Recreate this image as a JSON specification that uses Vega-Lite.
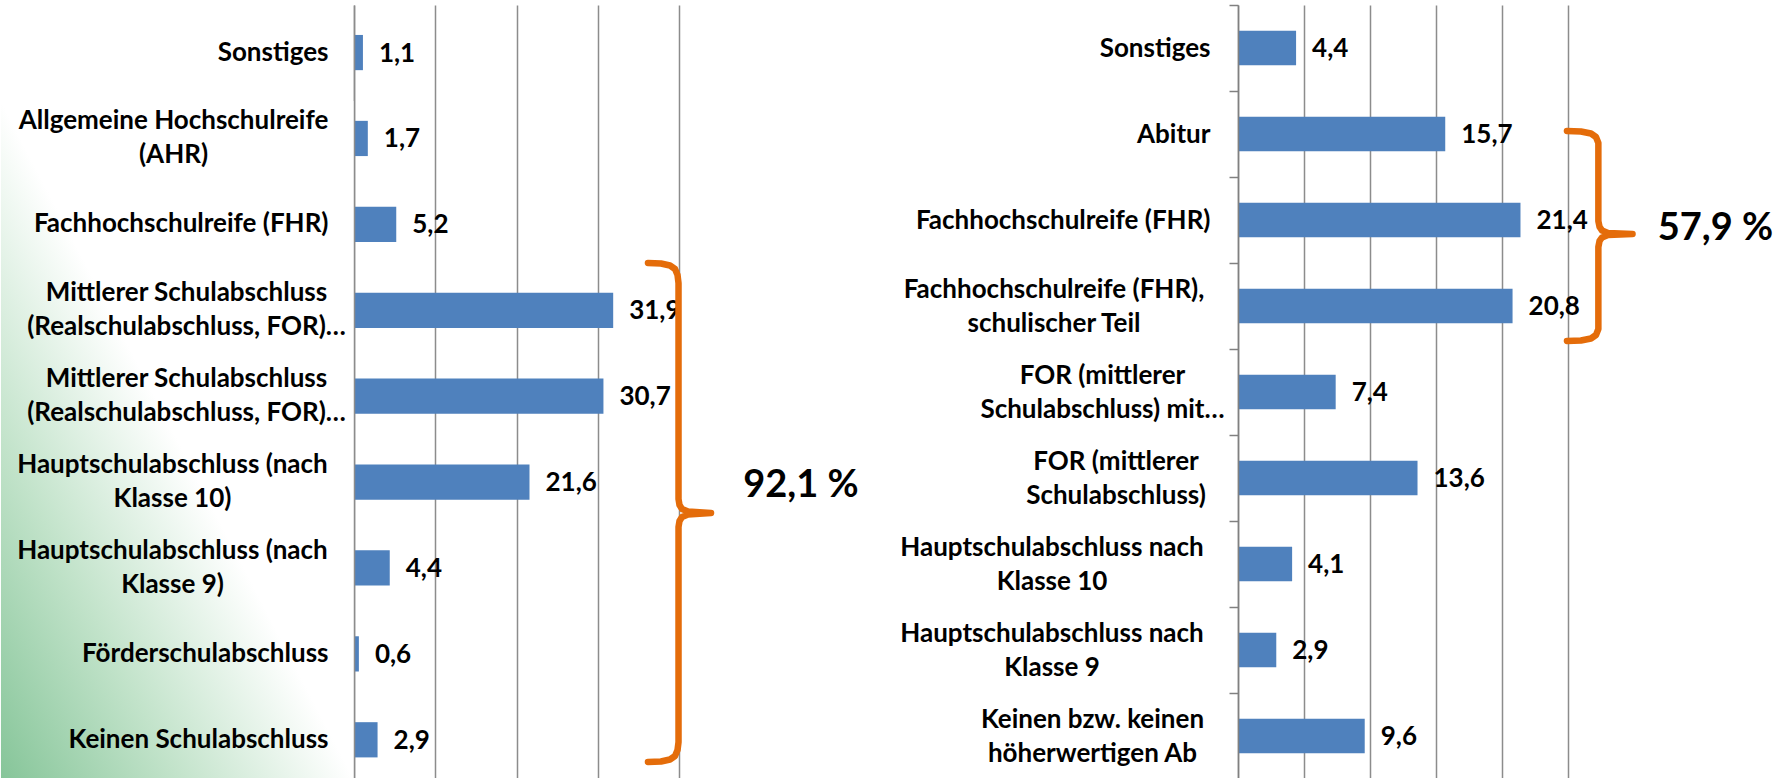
{
  "$schema": "https://vega.github.io/schema/vega-lite/v6.json",
  "padding": {"left": 0, "top": 4, "right": 0, "bottom": 0},
  "background": "#ffffff",
  "bounds": "flush",
  "spacing": 559,
  "config": {
    "locale": {"number": {"decimal": ",", "thousands": ".", "grouping": [3], "currency": ["", " €"]}},
    "view": {"stroke": null},
    "font": "Lato",
    "axis": {"labelFont": "Lato", "labelFontWeight": "bold", "labelFontSize": 26, "labelColor": "#000000", "title": null}
  },
  "datasets": {
    "left": [
      {"cat": "Sonstiges", "value": 1.1},
      {"cat": "Allgemeine Hochschulreife|(AHR)", "value": 1.7},
      {"cat": "Fachhochschulreife (FHR)", "value": 5.2},
      {"cat": "Mittlerer Schulabschluss|(Realschulabschluss, FOR)…", "value": 31.9},
      {"cat": "Mittlerer Schulabschluss|(Realschulabschluss, FOR)…\u200b", "value": 30.7},
      {"cat": "Hauptschulabschluss (nach|Klasse 10)", "value": 21.6},
      {"cat": "Hauptschulabschluss (nach|Klasse 9)", "value": 4.4},
      {"cat": "Förderschulabschluss", "value": 0.6},
      {"cat": "Keinen Schulabschluss", "value": 2.9}
    ],
    "right": [
      {"cat": "Sonstiges", "value": 4.4},
      {"cat": "Abitur", "value": 15.7},
      {"cat": "Fachhochschulreife (FHR)", "value": 21.4},
      {"cat": "Fachhochschulreife (FHR),|schulischer Teil", "value": 20.8},
      {"cat": "FOR (mittlerer|Schulabschluss) mit…", "value": 7.4},
      {"cat": "FOR (mittlerer|Schulabschluss)", "value": 13.6},
      {"cat": "Hauptschulabschluss nach|Klasse 10", "value": 4.1},
      {"cat": "Hauptschulabschluss nach|Klasse 9", "value": 2.9},
      {"cat": "Keinen bzw. keinen|höherwertigen Ab", "value": 9.6}
    ],
    "braceLeft": [
      {"i": 0, "bx": 36.18, "by": 3.000},
      {"i": 1, "bx": 37.78, "by": 3.006},
      {"i": 2, "bx": 38.89, "by": 3.029},
      {"i": 3, "bx": 39.51, "by": 3.070},
      {"i": 4, "bx": 39.82, "by": 3.140},
      {"i": 5, "bx": 39.94, "by": 3.233},
      {"i": 6, "bx": 39.94, "by": 5.744},
      {"i": 7, "bx": 40.06, "by": 5.814},
      {"i": 8, "bx": 40.37, "by": 5.860},
      {"i": 9, "bx": 41.11, "by": 5.890},
      {"i": 10, "bx": 43.94, "by": 5.907},
      {"i": 11, "bx": 41.11, "by": 5.924},
      {"i": 12, "bx": 40.37, "by": 5.953},
      {"i": 13, "bx": 40.06, "by": 6.000},
      {"i": 14, "bx": 39.94, "by": 6.070},
      {"i": 15, "bx": 39.94, "by": 8.570},
      {"i": 16, "bx": 39.82, "by": 8.663},
      {"i": 17, "bx": 39.51, "by": 8.733},
      {"i": 18, "bx": 38.89, "by": 8.773},
      {"i": 19, "bx": 37.78, "by": 8.797},
      {"i": 20, "bx": 36.18, "by": 8.802}
    ],
    "braceRight": [
      {"i": 0, "bx": 24.92, "by": 1.465},
      {"i": 1, "bx": 25.98, "by": 1.471},
      {"i": 2, "bx": 26.74, "by": 1.494},
      {"i": 3, "bx": 27.12, "by": 1.535},
      {"i": 4, "bx": 27.30, "by": 1.605},
      {"i": 5, "bx": 27.30, "by": 2.512},
      {"i": 6, "bx": 27.39, "by": 2.581},
      {"i": 7, "bx": 27.58, "by": 2.622},
      {"i": 8, "bx": 28.03, "by": 2.651},
      {"i": 9, "bx": 29.89, "by": 2.663},
      {"i": 10, "bx": 28.03, "by": 2.674},
      {"i": 11, "bx": 27.58, "by": 2.703},
      {"i": 12, "bx": 27.39, "by": 2.744},
      {"i": 13, "bx": 27.30, "by": 2.814},
      {"i": 14, "bx": 27.30, "by": 3.767},
      {"i": 15, "bx": 27.12, "by": 3.837},
      {"i": 16, "bx": 26.74, "by": 3.878},
      {"i": 17, "bx": 25.98, "by": 3.901},
      {"i": 18, "bx": 24.92, "by": 3.907}
    ]
  },
  "hconcat": [
    {
      "width": 325,
      "height": 774,
      "layer": [
        {
          "data": {"name": "left"},
          "layer": [
            {
              "mark": {"type": "bar", "color": "#4F81BD"},
              "encoding": {
                "y": {
                  "field": "cat", "type": "nominal", "sort": null,
                  "scale": {"paddingInner": 0.59, "paddingOuter": 0.3, "align": 0.581},
                  "axis": {
                    "ticks": false, "tickSize": 0, "domainColor": "#8c8c8c", "domainWidth": 1.5,
                    "labelLimit": 600, "labelLineHeight": 34, "labelPadding": 26, "labelExpr": "split(datum.label, '|')", "zindex": 1,
                    "minExtent": 353, "maxExtent": 353,
                    "encoding": {"labels": {
                      "align": {"value": {"expr": "indexof(datum.value, '|') >= 0 ? 'center' : 'right'"}},
                      "dy": {"value": {"expr": "indexof(datum.value, '|') >= 0 ? -17 : 0"}},
                      "dx": {"value": {"expr": "indexof(datum.value, 'Allgemeine') >= 0 ? -155 : indexof(datum.value, 'Mittlerer') >= 0 ? -142 : indexof(datum.value, 'Hauptschulabschluss (nach') >= 0 ? -156 : 0"}}
                    }}
                  }
                },
                "x": {
                  "field": "value", "type": "quantitative",
                  "scale": {"domain": [0, 40], "nice": false},
                  "axis": {"values": [0, 10, 20, 30, 40], "grid": true, "gridColor": "#8c8c8c", "gridWidth": 1.5, "labels": false, "ticks": false, "domain": false, "title": null}
                }
              }
            },
            {
              "mark": {"type": "text", "align": "left", "baseline": "middle", "dx": 16, "dy": 1, "fontSize": 26, "fontWeight": "bold", "font": "Lato", "color": "#000000"},
              "encoding": {
                "y": {"field": "cat", "type": "nominal", "sort": null},
                "x": {"field": "value", "type": "quantitative"},
                "text": {"field": "value", "type": "quantitative", "format": ".1f"}
              }
            }
          ]
        },
        {
          "layer": [
            {
              "data": {"values": [{}]},
              "mark": {"type": "rect", "fill": {"gradient": "linear", "x1": 0, "y1": 1, "x2": 1, "y2": 0, "stops": [{"offset": 0, "color": "#86c599"}, {"offset": 0.25, "color": "#c2e3ca"}, {"offset": 0.5, "color": "#ffffff"}, {"offset": 1, "color": "#ffffff"}]}},
              "encoding": {
                "x": {"datum": -43.45, "type": "quantitative", "scale": {"domain": [0, 40], "nice": false}},
                "x2": {"datum": 0},
                "y": {"datum": 1.116, "type": "quantitative", "scale": {"domain": [0, 9], "reverse": true, "nice": false, "zero": false}, "axis": null},
                "y2": {"datum": 9}
              }
            },
            {
              "data": {"name": "braceLeft"},
              "mark": {"type": "line", "color": "#E46C0A", "strokeWidth": 6.5, "strokeCap": "round", "strokeJoin": "round"},
              "encoding": {
                "x": {"field": "bx", "type": "quantitative", "scale": {"domain": [0, 40], "nice": false}},
                "y": {"field": "by", "type": "quantitative", "scale": {"domain": [0, 9], "reverse": true, "nice": false, "zero": false}, "axis": null},
                "order": {"field": "i", "type": "quantitative"}
              }
            },
            {
              "data": {"values": [{}]},
              "mark": {"type": "text", "align": "center", "baseline": "middle", "fontSize": 38, "fontWeight": "bold", "font": "Lato", "color": "#000000"},
              "encoding": {
                "x": {"datum": 55.0, "type": "quantitative"},
                "y": {"datum": 5.593, "type": "quantitative"},
                "text": {"value": "92,1 %"}
              }
            }
          ]
        }
      ],
      "resolve": {"scale": {"y": "independent"}, "axis": {"y": "independent"}}
    },
    {
      "width": 330,
      "height": 774,
      "layer": [
        {
          "data": {"name": "right"},
          "layer": [
            {
              "mark": {"type": "bar", "color": "#4F81BD"},
              "encoding": {
                "y": {
                  "field": "cat", "type": "nominal", "sort": null,
                  "scale": {"paddingInner": 0.6, "paddingOuter": 0.3},
                  "axis": {
                    "ticks": true, "tickSize": 9, "tickOffset": -43, "tickColor": "#808080", "tickWidth": 1.5,
                    "domainColor": "#808080", "domainWidth": 1.5,
                    "labelLimit": 600, "labelLineHeight": 34, "labelPadding": 19, "labelOffset": 43, "labelExpr": "split(datum.label, '|')", "zindex": 1,
                    "encoding": {"labels": {
                      "align": {"value": {"expr": "indexof(datum.value, '|') >= 0 ? 'center' : 'right'"}},
                      "dy": {"value": {"expr": "indexof(datum.value, '|') >= 0 ? -17 : 0"}},
                      "dx": {"value": {"expr": "indexof(datum.value, 'schulischer') >= 0 ? -156.5 : indexof(datum.value, 'mit…') >= 0 ? -108 : indexof(datum.value, 'FOR (mittlerer') >= 0 ? -94.5 : indexof(datum.value, 'Hauptschulabschluss nach') >= 0 ? -158.5 : indexof(datum.value, 'Keinen bzw.') >= 0 ? -118 : 0"}}
                    }}
                  }
                },
                "x": {
                  "field": "value", "type": "quantitative",
                  "scale": {"domain": [0, 25], "nice": false},
                  "axis": {"values": [0, 5, 10, 15, 20, 25], "grid": true, "gridColor": "#8c8c8c", "gridWidth": 1.5, "labels": false, "ticks": false, "domain": false, "title": null}
                }
              }
            },
            {
              "mark": {"type": "text", "align": "left", "baseline": "middle", "dx": 16, "dy": 1, "fontSize": 26, "fontWeight": "bold", "font": "Lato", "color": "#000000"},
              "encoding": {
                "y": {"field": "cat", "type": "nominal", "sort": null},
                "x": {"field": "value", "type": "quantitative"},
                "text": {"field": "value", "type": "quantitative", "format": ".1f"}
              }
            }
          ]
        },
        {
          "layer": [
            {
              "data": {"name": "braceRight"},
              "mark": {"type": "line", "color": "#E46C0A", "strokeWidth": 6.5, "strokeCap": "round", "strokeJoin": "round"},
              "encoding": {
                "x": {"field": "bx", "type": "quantitative", "scale": {"domain": [0, 25], "nice": false}},
                "y": {"field": "by", "type": "quantitative", "scale": {"domain": [0, 9], "reverse": true, "nice": false, "zero": false}, "axis": null},
                "order": {"field": "i", "type": "quantitative"}
              }
            },
            {
              "data": {"values": [{}]},
              "mark": {"type": "text", "align": "center", "baseline": "middle", "fontSize": 38, "fontWeight": "bold", "font": "Lato", "color": "#000000"},
              "encoding": {
                "x": {"datum": 36.17, "type": "quantitative"},
                "y": {"datum": 2.6, "type": "quantitative"},
                "text": {"value": "57,9 %"}
              }
            }
          ]
        }
      ],
      "resolve": {"scale": {"y": "independent"}, "axis": {"y": "independent"}}
    }
  ]
}
